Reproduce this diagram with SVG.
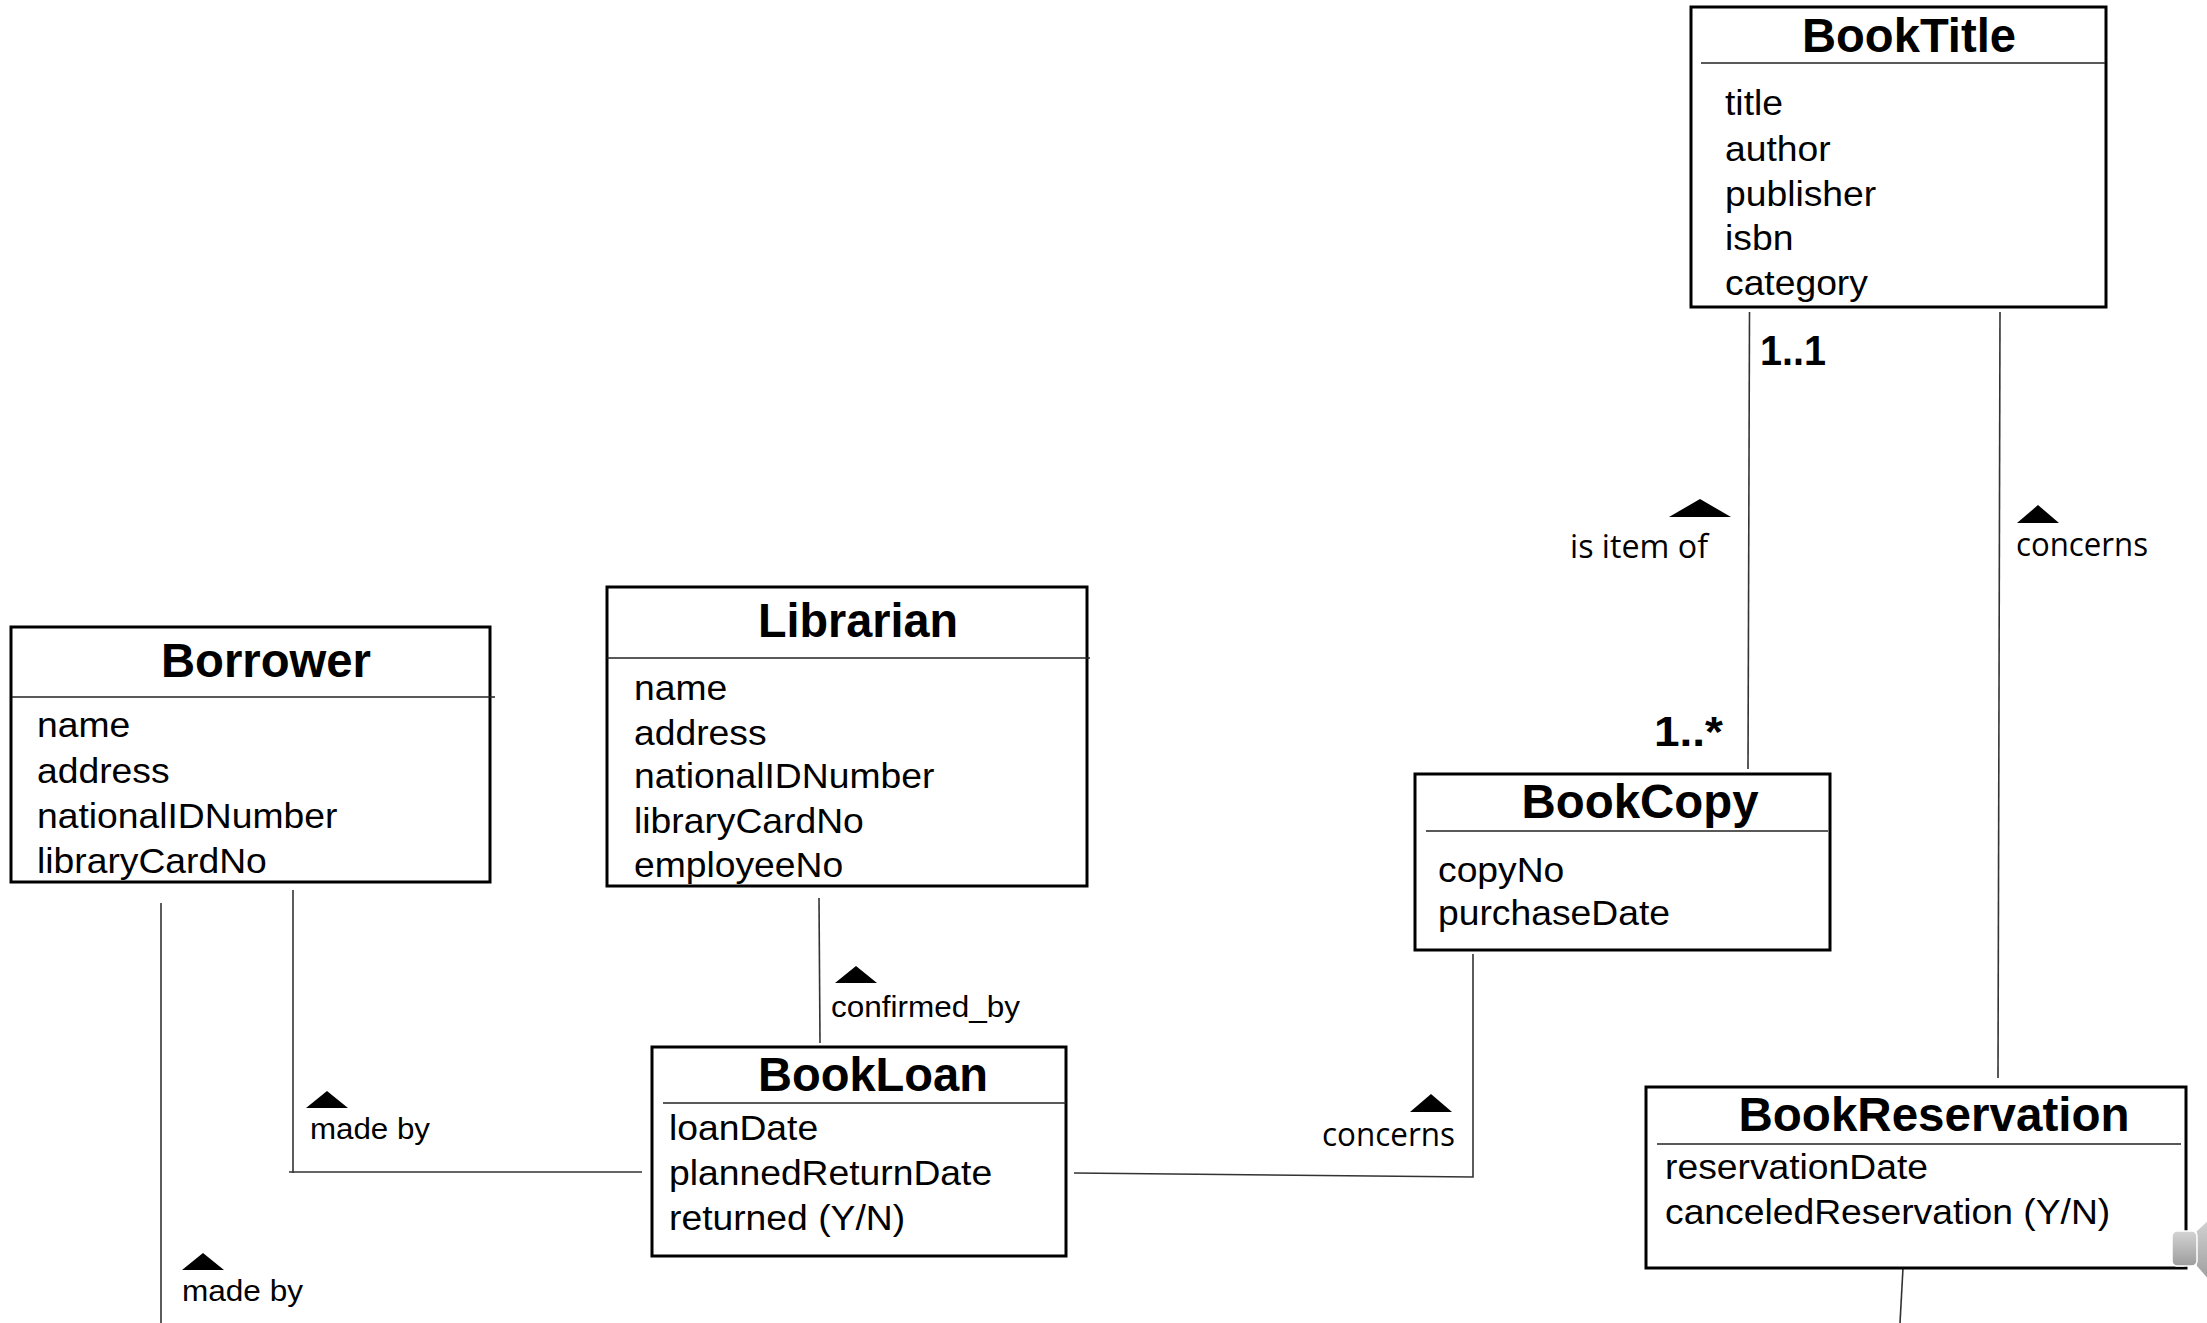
<svg xmlns="http://www.w3.org/2000/svg" width="2207" height="1323" viewBox="0 0 2207 1323">
<defs>
<style>
.box{fill:#fff;stroke:#000;stroke-width:3}
.div{stroke:#222;stroke-width:1.6;fill:none}
.ttl{font-family:"Liberation Sans",Arial,sans-serif;font-weight:bold;font-size:48px;fill:#000;text-anchor:middle}
.att{font-family:"Liberation Sans",Arial,sans-serif;font-size:35px;fill:#000}
.lbl{font-family:"Liberation Sans",Arial,sans-serif;font-size:29px;fill:#000}
.cal{font-family:"Open Sans","Noto Sans",sans-serif;font-size:32px;fill:#000}
.mul{font-family:"Liberation Sans",Arial,sans-serif;font-weight:bold;font-size:42px;fill:#000}
.con{stroke:#333;stroke-width:1.6;fill:none}
.tri{fill:#000}
</style>
<linearGradient id="spk" x1="0" y1="0" x2="0" y2="1">
<stop offset="0" stop-color="#d4d4d4"/>
<stop offset="1" stop-color="#9c9c9c"/>
</linearGradient>
</defs>
<rect width="2207" height="1323" fill="#fff"/>

<g id="connectors">
<path class="con" d="M1749.5,312 L1748,769"/>
<path class="con" d="M2000,312 L1998,1078"/>
<path class="con" d="M819,898 L820,1043"/>
<path class="con" d="M293,890 V1173 M289,1172 H642"/>
<path class="con" d="M1074,1173 L1473,1177 V954"/>
<path class="con" d="M161,903 V1323"/>
<path class="con" d="M1903,1268 L1900,1323"/>
<polygon class="tri" points="1669,517 1700,499 1731,517"/>
<polygon class="tri" points="2017,523 2038,505 2059,523"/>
<polygon class="tri" points="835,983 856,966 877,983"/>
<polygon class="tri" points="306,1108 327,1091 348,1108"/>
<polygon class="tri" points="182,1270 203,1253 224,1270"/>
<polygon class="tri" points="1410,1112 1431,1094 1452,1112"/>
<text class="cal" x="1570" y="558" textLength="138" lengthAdjust="spacingAndGlyphs">is item of</text>
<text class="cal" x="2016" y="556" textLength="132" lengthAdjust="spacingAndGlyphs">concerns</text>
<text class="cal" x="1322" y="1146" textLength="133" lengthAdjust="spacingAndGlyphs">concerns</text>
<text class="lbl" x="831" y="1017" textLength="189" lengthAdjust="spacingAndGlyphs">confirmed_by</text>
<text class="lbl" x="310" y="1139" textLength="120" lengthAdjust="spacingAndGlyphs">made by</text>
<text class="lbl" x="182" y="1301" textLength="121" lengthAdjust="spacingAndGlyphs">made by</text>
<text class="mul" x="1760" y="365" textLength="66" lengthAdjust="spacingAndGlyphs">1..1</text>
<text class="mul" x="1654" y="746" textLength="69" lengthAdjust="spacingAndGlyphs">1..*</text>
</g>

<g id="BookTitle">
<rect class="box" x="1691" y="7" width="415" height="300"/>
<line class="div" x1="1701" y1="63" x2="2105" y2="63"/>
<text class="ttl" x="1909" y="52" textLength="214" lengthAdjust="spacingAndGlyphs">BookTitle</text>
<g transform="translate(1725 0) scale(1.065 1)">
<text class="att" x="0" y="115">title</text>
<text class="att" x="0" y="161">author</text>
<text class="att" x="0" y="206">publisher</text>
<text class="att" x="0" y="250">isbn</text>
<text class="att" x="0" y="295">category</text>
</g>
</g>

<g id="Borrower">
<rect class="box" x="11" y="627" width="479" height="255"/>
<line class="div" x1="12" y1="697" x2="495" y2="697"/>
<text class="ttl" x="266" y="677" textLength="210" lengthAdjust="spacingAndGlyphs">Borrower</text>
<g transform="translate(37 0) scale(1.065 1)">
<text class="att" x="0" y="737">name</text>
<text class="att" x="0" y="783">address</text>
<text class="att" x="0" y="828">nationalIDNumber</text>
<text class="att" x="0" y="873">libraryCardNo</text>
</g>
</g>

<g id="Librarian">
<rect class="box" x="607" y="587" width="480" height="299"/>
<line class="div" x1="607" y1="658" x2="1090" y2="658"/>
<text class="ttl" x="858" y="637" textLength="200" lengthAdjust="spacingAndGlyphs">Librarian</text>
<g transform="translate(634 0) scale(1.065 1)">
<text class="att" x="0" y="700">name</text>
<text class="att" x="0" y="745">address</text>
<text class="att" x="0" y="788">nationalIDNumber</text>
<text class="att" x="0" y="833">libraryCardNo</text>
<text class="att" x="0" y="877">employeeNo</text>
</g>
</g>

<g id="BookCopy">
<rect class="box" x="1415" y="774" width="415" height="176"/>
<line class="div" x1="1426" y1="831" x2="1828" y2="831"/>
<text class="ttl" x="1640" y="818" textLength="237" lengthAdjust="spacingAndGlyphs">BookCopy</text>
<g transform="translate(1438 0) scale(1.065 1)">
<text class="att" x="0" y="882">copyNo</text>
<text class="att" x="0" y="925">purchaseDate</text>
</g>
</g>

<g id="BookLoan">
<rect class="box" x="652" y="1047" width="414" height="209"/>
<line class="div" x1="663" y1="1103" x2="1066" y2="1103"/>
<text class="ttl" x="873" y="1091" textLength="230" lengthAdjust="spacingAndGlyphs">BookLoan</text>
<g transform="translate(669 0) scale(1.065 1)">
<text class="att" x="0" y="1140">loanDate</text>
<text class="att" x="0" y="1185">plannedReturnDate</text>
<text class="att" x="0" y="1230">returned (Y/N)</text>
</g>
</g>

<g id="BookReservation">
<rect class="box" x="1646" y="1087" width="540" height="181"/>
<line class="div" x1="1657" y1="1144" x2="2181" y2="1144"/>
<text class="ttl" x="1934" y="1131" textLength="391" lengthAdjust="spacingAndGlyphs">BookReservation</text>
<g transform="translate(1665 0) scale(1.065 1)">
<text class="att" x="0" y="1179">reservationDate</text>
<text class="att" x="0" y="1224">canceledReservation (Y/N)</text>
</g>
</g>

<g id="speaker">
<path d="M2196,1231 L2210,1218 L2210,1282 L2196,1266 Z" fill="url(#spk)" stroke="#fff" stroke-width="1.5"/>
<rect x="2172" y="1231" width="25" height="35" rx="5" fill="url(#spk)" stroke="#fff" stroke-width="1.5"/>
</g>
</svg>
